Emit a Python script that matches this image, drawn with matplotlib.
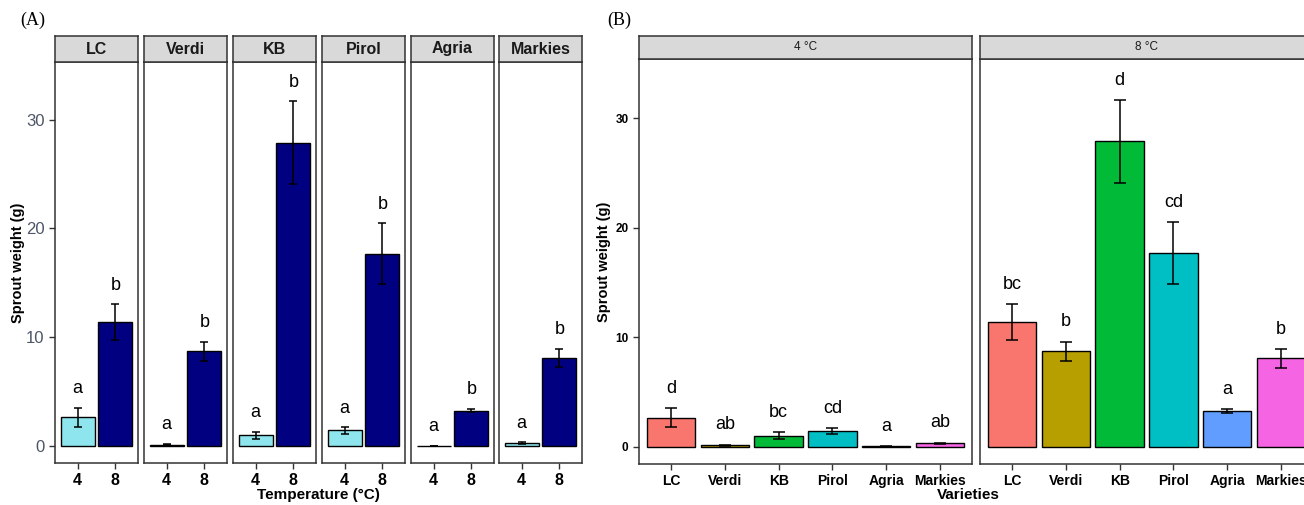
import matplotlib
matplotlib.use("Agg")
import matplotlib.pyplot as plt
import numpy as np

plt.rcParams["font.family"] = ["Liberation Sans", "DejaVu Sans"]

varieties = ["LC", "Verdi", "KB", "Pirol", "Agria", "Markies"]
temps = ["4", "8"]

# mean sprout weight (g) and standard error per variety
mean_4 = [2.65, 0.15, 1.00, 1.44, 0.03, 0.30]
se_4 = [0.88, 0.05, 0.30, 0.29, 0.02, 0.07]
mean_8 = [11.37, 8.72, 27.88, 17.68, 3.26, 8.08]
se_8 = [1.65, 0.87, 3.80, 2.80, 0.15, 0.85]

# letters: temperature comparison within each variety
letters_temp_4 = ["a", "a", "a", "a", "a", "a"]
letters_temp_8 = ["b", "b", "b", "b", "b", "b"]
# letters: variety comparison within each temperature
letters_var_4 = ["d", "ab", "bc", "cd", "a", "ab"]
letters_var_8 = ["bc", "b", "d", "cd", "a", "b"]

temp_colors = ["#8EE5EE", "#000080"]
hue_colors = ["#F8766D", "#B79F00", "#00BA38", "#00BFC4", "#619CFF", "#F564E3"]

W, H = 1304, 505
fig = plt.figure(figsize=(W / 100, H / 100), dpi=100)


def box(x0, y0, x1, y1):
    return [x0 / W, 1 - y1 / H, (x1 - x0) / W, (y1 - y0) / H]


edge = "#333333"


def style_panel(ax):
    for s in ax.spines.values():
        s.set_color(edge)
        s.set_linewidth(1.1)
    ax.tick_params(color=edge, length=4, width=1.0)


def strip(x0, x1, y0, y1, text, size, weight):
    sa = fig.add_axes(box(x0, y0, x1, y1))
    sa.set_facecolor("#D9D9D9")
    sa.set_xticks([])
    sa.set_yticks([])
    for s in sa.spines.values():
        s.set_color(edge)
        s.set_linewidth(1.1)
    sa.text(0.5, 0.5, text, ha="center", va="center", fontsize=size,
            fontweight=weight, color="#1A1A1A", transform=sa.transAxes)


# ---- (A) one facet per variety, 4 vs 8 °C
x_left = [55, 144, 233, 322, 411, 499]
pw = 83
for i, name in enumerate(varieties):
    ax = fig.add_axes(box(x_left[i], 62, x_left[i] + pw, 463))
    x = np.arange(1, 3)
    means = [mean_4[i], mean_8[i]]
    errs = [se_4[i], se_8[i]]
    ax.bar(x, means, width=0.9, color=temp_colors, edgecolor="black",
           linewidth=1.0, zorder=2)
    ax.errorbar(x, means, yerr=errs, fmt="none", ecolor="black",
                elinewidth=1.1, capsize=3, capthick=1.1, zorder=3)
    for xi, m, e, lab in zip(x, means, errs,
                             [letters_temp_4[i], letters_temp_8[i]]):
        ax.text(xi, m + e + 1.75, lab, ha="center", va="center",
                fontsize=13, color="black")
    ax.set_xlim(0.4, 2.6)
    ax.set_ylim(-1.55, 35.3)
    ax.set_xticks(x)
    ax.set_xticklabels(temps, fontsize=11.5, fontweight="bold")
    style_panel(ax)
    if i == 0:
        ax.set_yticks([0, 10, 20, 30])
        ax.set_yticklabels(["0", "10", "20", "30"], fontsize=12,
                           color="#4D5566")
        ax.set_ylabel("Sprout weight (g)", fontsize=10.5, fontweight="bold",
                      labelpad=1)
    else:
        ax.set_yticks([])
    strip(x_left[i], x_left[i] + pw, 36, 62, name, 11.5, "bold")

fig.text(318 / W, 1 - 495 / H, "Temperature (°C)", ha="center", va="center",
         fontsize=11, fontweight="bold")
fig.text(20 / W, 1 - 20 / H, "(A)", ha="left", va="center", fontsize=13,
         family="Liberation Serif")

# ---- (B) one facet per temperature, all varieties
b_panels = [
    (639, 972, "4 °C", mean_4, se_4, letters_var_4),
    (980, 1313, "8 °C", mean_8, se_8, letters_var_8),
]
for j, (x0, x1, title, means, errs, letters) in enumerate(b_panels):
    ax = fig.add_axes(box(x0, 59, x1, 464))
    x = np.arange(1, len(varieties) + 1)
    ax.bar(x, means, width=0.9, color=hue_colors, edgecolor="black",
           linewidth=1.0, zorder=2)
    ax.errorbar(x, means, yerr=errs, fmt="none", ecolor="black",
                elinewidth=1.1, capsize=4.5, capthick=1.1, zorder=3)
    for xi, m, e, lab in zip(x, means, errs, letters):
        ax.text(xi, m + e + 1.8, lab, ha="center", va="center",
                fontsize=13, color="black")
    ax.set_xlim(0.4, 6.6)
    ax.set_ylim(-1.58, 35.4)
    ax.set_xticks(x)
    ax.set_xticklabels(varieties, fontsize=10, fontweight="bold")
    style_panel(ax)
    if j == 0:
        ax.set_yticks([0, 10, 20, 30])
        ax.set_yticklabels(["0", "10", "20", "30"], fontsize=8.5,
                           fontweight="bold")
        ax.set_ylabel("Sprout weight (g)", fontsize=10.5, fontweight="bold",
                      labelpad=3)
    else:
        ax.set_yticks([])
    strip(x0, x1, 36, 59, title, 8.5, "normal")

fig.text(968 / W, 1 - 495 / H, "Varieties", ha="center", va="center",
         fontsize=11, fontweight="bold")
fig.text(607 / W, 1 - 20 / H, "(B)", ha="left", va="center", fontsize=13,
         family="Liberation Serif")

fig.savefig("out.png", dpi=100)
